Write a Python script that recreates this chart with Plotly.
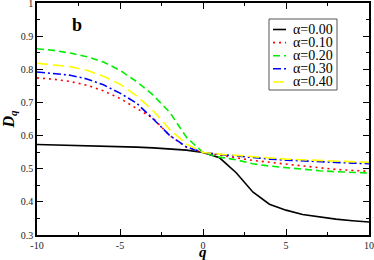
import plotly.graph_objects as go

q = list(range(-10, 11))

d_a000 = [0.573, 0.572, 0.571, 0.570, 0.568, 0.567, 0.565, 0.563, 0.560, 0.556, 0.549,
          0.533, 0.488, 0.430, 0.393, 0.375, 0.362, 0.354, 0.348, 0.343, 0.339]
d_a010 = [0.774, 0.770, 0.763, 0.752, 0.735, 0.712, 0.682, 0.652, 0.600, 0.565, 0.549,
          0.540, 0.533, 0.525, 0.519, 0.514, 0.508, 0.503, 0.498, 0.495, 0.492]
d_a020 = [0.862, 0.857, 0.849, 0.838, 0.822, 0.797, 0.763, 0.722, 0.670, 0.595, 0.549,
          0.535, 0.527, 0.515, 0.508, 0.503, 0.497, 0.494, 0.491, 0.489, 0.487]
d_a030 = [0.792, 0.788, 0.782, 0.771, 0.753, 0.728, 0.698, 0.650, 0.600, 0.566, 0.549,
          0.543, 0.538, 0.533, 0.529, 0.526, 0.523, 0.521, 0.519, 0.517, 0.515]
d_a040 = [0.818, 0.814, 0.808, 0.797, 0.779, 0.755, 0.720, 0.675, 0.618, 0.575, 0.549,
          0.544, 0.540, 0.536, 0.532, 0.529, 0.527, 0.525, 0.523, 0.521, 0.519]

names = ["α=0.00", "α=0.10", "α=0.20", "α=0.30", "α=0.40"]
colors = ["#000000", "#ff0000", "#00ee00", "#0000ff", "#ffff00"]
dashes = ["solid", "2px,4px", "7px,4px", "8px,3px,2px,3px", "11px,5px"]
series = [d_a000, d_a010, d_a020, d_a030, d_a040]

x_tickvals = [-10, -5, 0, 5, 10]
x_ticktext = ["-10", "-5", "0", "5", "10"]
y_tickvals = [0.3, 0.4, 0.5, 0.6, 0.7, 0.8, 0.9, 1.0]
y_ticktext = ["0.3", "0.4", "0.5", "0.6", "0.7", "0.8", "0.9", "1"]

W, H = 374, 260
ML, MR, MT, MB = 37, 5, 3, 25
PW, PH = W - ML - MR, H - MT - MB


def px_x(p):
    return (p - ML) / PW


def px_y(p):
    return 1 - (p - MT) / PH


fig = go.Figure()
for name, ys, c, d in zip(names, series, colors, dashes):
    fig.add_trace(go.Scatter(x=q, y=ys, mode="lines", name=name, showlegend=False,
                             line=dict(color=c, dash=d, width=1.6)))

font = "Liberation Serif, Times New Roman, serif"

# compact legend (box, samples, labels)
shapes = [dict(type="rect", xref="paper", yref="paper",
               x0=px_x(269), x1=px_x(337), y0=px_y(90), y1=px_y(19),
               line=dict(color="#555555", width=1), fillcolor="white", layer="above")]
annotations = []
for i, (name, c, d) in enumerate(zip(names, colors, dashes)):
    yc = 29.5 + i * 13.1
    shapes.append(dict(type="line", xref="paper", yref="paper",
                       x0=px_x(273), x1=px_x(286), y0=px_y(yc), y1=px_y(yc),
                       line=dict(color=c, dash=d, width=1.6), layer="above"))
    annotations.append(dict(text=name, xref="paper", yref="paper", x=px_x(291), y=px_y(yc),
                            xanchor="left", yanchor="middle", showarrow=False,
                            font=dict(family=font, size=14, color="black")))

annotations.append(dict(text="<b>b</b>", x=px_x(77), y=px_y(25), xref="paper", yref="paper",
                        xanchor="center", yanchor="middle", showarrow=False,
                        font=dict(family=font, size=18, color="black")))
annotations.append(dict(text="<b><i>q</i></b>", x=px_x(203), y=px_y(252), xref="paper", yref="paper",
                        xanchor="center", yanchor="middle", showarrow=False,
                        font=dict(family=font, size=15, color="black")))

fig.update_layout(
    width=W, height=H,
    margin=dict(l=ML, r=MR, t=MT, b=MB, autoexpand=False),
    paper_bgcolor="white", plot_bgcolor="white",
    font=dict(family=font, size=10, color="#222222"),
    showlegend=False,
    shapes=shapes,
    annotations=annotations,
)
fig.update_xaxes(range=[-10, 10], tickvals=x_tickvals, ticktext=x_ticktext, automargin=False,
                 ticklabeloverflow="allow",
                 ticks="inside", ticklen=6, tickcolor="black", mirror="allticks",
                 showline=True, linecolor="black", linewidth=1.5, showgrid=False, zeroline=False,
                 minor=dict(ticks="inside", ticklen=3, dtick=2.5, tickcolor="black", showgrid=False),
                 tickfont=dict(size=10))
fig.update_yaxes(range=[0.3, 1.0], tickvals=y_tickvals, ticktext=y_ticktext, automargin=False,
                 ticklabeloverflow="allow",
                 ticks="inside", ticklen=6, tickcolor="black", mirror="allticks",
                 showline=True, linecolor="black", linewidth=1.5, showgrid=False, zeroline=False,
                 minor=dict(ticks="inside", ticklen=3, dtick=0.05, tickcolor="black", showgrid=False),
                 title=dict(text="<b><i>D</i></b><sub><b><i>q</i></b></sub>",
                            font=dict(family=font, size=16, color="black"), standoff=5),
                 tickfont=dict(size=10))

fig.write_html("out.html", config={"displayModeBar": False},
               post_script="document.body.style.margin='0px';document.body.style.overflow='hidden';")
